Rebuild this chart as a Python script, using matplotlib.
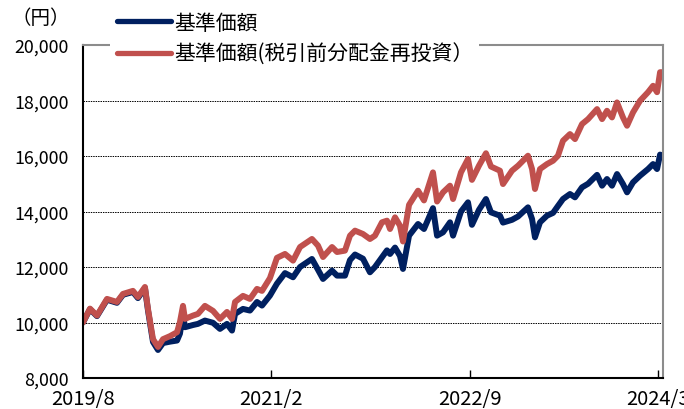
import matplotlib

matplotlib.use("Agg")
import matplotlib.pyplot as plt

plt.rcParams["font.family"] = ["Noto Sans CJK JP", "DejaVu Sans"]

# months elapsed since 2019/8
months = [
    0.00, 0.67, 1.34, 2.30, 3.25, 3.83, 4.78, 5.26, 5.93, 6.22,
    6.70, 7.18, 7.66, 8.33, 9.00, 9.28, 9.57, 9.76, 10.53, 11.00,
    11.67, 12.44, 13.11, 13.78, 14.26, 14.55, 15.31, 15.98, 16.65, 17.13,
    17.89, 18.56, 19.33, 20.10, 20.77, 21.91, 22.49, 22.97, 23.83, 24.31,
    25.07, 25.55, 26.03, 26.79, 27.46, 27.94, 28.61, 29.09, 29.38, 29.86,
    30.33, 30.62, 31.20, 32.06, 32.63, 33.49, 33.88, 34.45, 35.12, 35.41,
    36.17, 36.84, 37.22, 37.89, 38.56, 39.04, 39.90, 40.19, 41.05, 41.63,
    42.58, 42.97, 43.25, 43.73, 44.40, 44.98, 45.45, 45.93, 46.60, 47.08,
    47.75, 48.33, 49.19, 49.67, 50.14, 50.62, 51.10, 51.67, 52.06, 52.63,
    53.30, 54.07, 54.55, 54.93, 55.22, 55.50,
]

nav_reinvested = [
    10000, 10500, 10250, 10850, 10740, 11030, 11140, 10920, 11280, 10490,
    9400, 9120, 9400, 9510, 9650, 10020, 10600, 10130, 10250, 10310,
    10600, 10420, 10130, 10380, 10130, 10740, 10960, 10850, 11210, 11140,
    11600, 12330, 12470, 12230, 12720, 13010, 12770, 12360, 12720, 12540,
    12590, 13130, 13310, 13190, 13010, 13130, 13610, 13670, 13370, 13790,
    13490, 12920, 14240, 14750, 14400, 15410, 14360, 14690, 14930, 14450,
    15410, 15890, 15140, 15650, 16100, 15620, 15470, 14990, 15470, 15650,
    16010, 15530, 14810, 15530, 15710, 15830, 16010, 16550, 16790, 16610,
    17150, 17330, 17690, 17330, 17630, 17390, 17930, 17390, 17090, 17570,
    17990, 18300, 18530, 18300, 19020, 19020,
]

nav = [
    10000, 10480, 10230, 10820, 10710, 11000, 11100, 10880, 11240, 10440,
    9300, 9010, 9260, 9310, 9350, 9600, 10300, 9830, 9910, 9950,
    10070, 9990, 9770, 9950, 9710, 10310, 10490, 10430, 10740, 10610,
    10970, 11400, 11780, 11630, 12000, 12290, 11900, 11570, 11870, 11690,
    11690, 12250, 12450, 12300, 11810, 12000, 12350, 12600, 12470, 12700,
    12400, 11930, 13130, 13550, 13370, 14120, 13130, 13250, 13610, 13130,
    14000, 14330, 13520, 14060, 14450, 13970, 13850, 13600, 13700, 13820,
    14150, 13730, 13070, 13610, 13850, 13950, 14200, 14450, 14630, 14510,
    14870, 15000, 15320, 14930, 15170, 14930, 15350, 14990, 14690, 15050,
    15290, 15530, 15710, 15530, 16050, 16010,
]

tick_months = [0, 18, 37, 55]
tick_labels = ["2019/8", "2021/2", "2022/9", "2024/3"]
y_ticks = [8000, 10000, 12000, 14000, 16000, 18000, 20000]

NAVY = "#002060"
RED = "#c0504d"

fig = plt.figure(figsize=(6.84, 4.10), dpi=100)
ax = fig.add_axes([0.1213, 0.0756, 0.848, 0.8122])

ax.plot(months, nav, color=NAVY, lw=4.3, solid_joinstyle="round", solid_capstyle="round", label="基準価額")
ax.plot(months, nav_reinvested, color=RED, lw=4.3, solid_joinstyle="round", solid_capstyle="round",
        label="基準価額(税引前分配金再投資）")

ax.set_xlim(0, 55.5)
ax.set_ylim(8000, 20000)
ax.set_yticks(y_ticks)
ax.set_yticklabels([f"{v:,}" for v in y_ticks])
ax.set_xticks(tick_months)
ax.set_xticklabels(tick_labels)

ax.set_axisbelow(True)
ax.yaxis.grid(True, linestyle=(0, (1.5, 1.0)), color="black", linewidth=0.7)
ax.tick_params(axis="y", length=0, pad=10, labelsize=12.8, colors="black")
ax.tick_params(axis="x", direction="in", length=6, width=1, pad=7, labelsize=14.5)

for side in ["left", "bottom"]:
    ax.spines[side].set_color("black")
    ax.spines[side].set_linewidth(1.5)
for side in ["top", "right"]:
    ax.spines[side].set_color("#8c8c8c")
    ax.spines[side].set_linewidth(1.5)

fig.text(0.06, 0.956, "（円）", fontsize=14, ha="center", va="center")

leg = fig.legend(loc="upper left", bbox_to_anchor=(0.146, 1.01), fontsize=15,
                 handlelength=2.6, handletextpad=0.15, labelspacing=0.45,
                 borderpad=0.3, frameon=True, fancybox=False)
leg.get_frame().set_facecolor("white")
leg.get_frame().set_edgecolor("none")
leg.get_frame().set_alpha(1.0)
for line in leg.get_lines():
    line.set_linewidth(3.8)

fig.savefig("out.png", dpi=100)
